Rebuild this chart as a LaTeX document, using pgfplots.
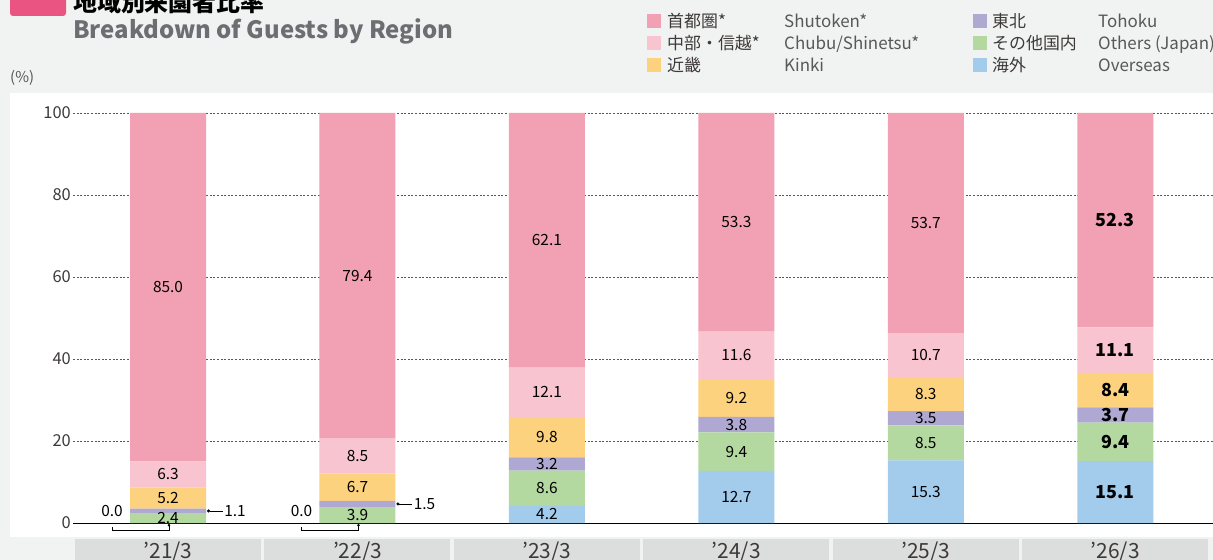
\documentclass[border=0pt]{standalone}
\usepackage{fontspec}
\setmainfont{Noto Sans CJK JP}
\usepackage{pgfplots}
\pgfplotsset{compat=1.18}
\usepackage{pgfplotstable}
\usetikzlibrary{arrows.meta}

\definecolor{cSh}{HTML}{F2A1B4}
\definecolor{cCh}{HTML}{F8C4D0}
\definecolor{cKi}{HTML}{FDD27E}
\definecolor{cTh}{HTML}{AFA8D3}
\definecolor{cOt}{HTML}{B3D8A0}
\definecolor{cOv}{HTML}{A2CBEC}
\definecolor{bg}{HTML}{F1F2F2}
\definecolor{boxgray}{HTML}{DCDDDD}
\definecolor{tpink}{HTML}{EA5482}
\definecolor{tgray}{HTML}{6D6E71}
\definecolor{txt}{HTML}{3E3A39}
\definecolor{txt2}{HTML}{595757}

\pgfplotstableread{
x ov ot th ki ch sh
0 0.0 2.4 1.1 5.2 6.3 85.0
1 0.0 3.9 1.5 6.7 8.5 79.4
2 4.2 8.6 3.2 9.8 12.1 62.1
3 12.7 9.4 3.8 9.2 11.6 53.3
4 15.3 8.5 3.5 8.3 10.7 53.7
5 15.1 9.4 3.7 8.4 11.1 52.3
}\data

\pgfplotsset{
  base/.style={
    scale only axis, width=1140bp, height=410bp,
    at={(73bp,37bp)}, anchor=south west,
    xmin=-0.5016, xmax=5.5158, ymin=0, ymax=100,
    clip=false,
  },
  lbl/.style={only marks, mark=none, nodes near coords, point meta=explicit,
    nodes near coords style={anchor=center, inner sep=0pt, text=black, font=\fontsize{15.5}{17}\selectfont}},
  lblb/.style={only marks, mark=none, nodes near coords, point meta=explicit,
    nodes near coords style={anchor=center, inner sep=0pt, text=black, font=\bfseries\fontsize{18}{20}\selectfont}},
}

\begin{document}
\begin{tikzpicture}
\useasboundingbox (0,0) rectangle (1213bp,560bp);
\clip (0,0) rectangle (1213bp,560bp);
\fill[bg] (0,0) rectangle (1213bp,560bp);
\fill[white] (10bp,23bp) rectangle (1213bp,467bp);

% title
\fill[tpink, rounded corners=3bp] (10bp,544bp) rectangle (66bp,575bp);
\node[anchor=base west, inner sep=0pt, font=\bfseries\fontsize{24}{26}\selectfont] at (73bp,548bp) {地域別来園者比率};
\node[anchor=base west, inner sep=0pt, text=tgray, font=\bfseries\fontsize{24}{26}\selectfont] at (73bp,521bp) {Breakdown of Guests by Region};
\node[anchor=base west, inner sep=0pt, text=txt2, font=\fontsize{15}{17}\selectfont] at (10bp,477bp) {(\%)};

% legend
\def\sq{14bp}
\foreach \c/\y/\jp/\en in {cSh/539/首都圏*/Shutoken*, cCh/517/中部・信越*/Chubu\slash Shinetsu*, cKi/495/近畿/Kinki}{
  \fill[\c] (647bp,\y bp-7bp) rectangle ++(\sq,\sq);
  \node[anchor=base west, inner sep=0pt, text=txt, font=\fontsize{17}{19}\selectfont] at (667bp,\y bp-6.3bp) {\jp};
  \node[anchor=base west, inner sep=0pt, text=txt2, font=\fontsize{17}{19}\selectfont] at (784bp,\y bp-6.3bp) {\en};
}
\foreach \c/\y/\jp/\en in {cTh/539/東北/Tohoku, cOt/517/その他国内/Others (Japan), cOv/495/海外/Overseas}{
  \fill[\c] (973bp,\y bp-7bp) rectangle ++(\sq,\sq);
  \node[anchor=base west, inner sep=0pt, text=txt, font=\fontsize{17}{19}\selectfont] at (992bp,\y bp-6.3bp) {\jp};
  \node[anchor=base west, inner sep=0pt, text=txt2, font=\fontsize{17}{19}\selectfont] at (1098bp,\y bp-6.3bp) {\en};
}

\begin{axis}[base,
  ybar stacked, bar width=76bp,
  axis x line*=bottom, axis y line*=left,
  y axis line style={draw=none},
  x axis line style={-, black, line width=0.9bp},
  xtick={0,...,5},
  xticklabels={’21/3,’22/3,’23/3,’24/3,’25/3,’26/3},
  ytick={0,20,...,100},
  ymajorgrids,
  major grid style={dash pattern=on 2bp off 1.6bp, txt2, line width=0.7bp},
  major tick length=0pt,
  yticklabel style={font=\fontsize{16.5}{18}\selectfont, text=txt, inner sep=2bp},
  /pgf/number format/assume math mode=true,
  xticklabel style={fill=boxgray, minimum width=186bp, minimum height=26bp, inner sep=0pt,
     anchor=north, yshift=-16bp, text=txt, font=\fontsize{21}{23}\selectfont},
]
\addplot[fill=cOv, draw=none] table[x=x,y=ov]{\data};
\addplot[fill=cOt, draw=none] table[x=x,y=ot]{\data};
\addplot[fill=cTh, draw=none] table[x=x,y=th]{\data};
\addplot[fill=cKi, draw=none] table[x=x,y=ki]{\data};
\addplot[fill=cCh, draw=none] table[x=x,y=ch]{\data};
\addplot[fill=cSh, draw=none] table[x=x,y=sh]{\data};
\end{axis}

\begin{axis}[base, hide axis,
  /pgf/number format/.cd, fixed, fixed zerofill, precision=1, assume math mode=true]
% overseas
\addplot[lbl, skip coords between index={0}{2}, skip coords between index={5}{6}] table[x=x, y expr=\thisrow{ov}/2, meta=ov]{\data};
\addplot[lblb, skip coords between index={0}{5}] table[x=x, y expr=\thisrow{ov}/2, meta=ov]{\data};
\addplot[lbl, skip coords between index={2}{6}, nodes near coords style={xshift=-56bp, yshift=12bp}] table[x=x, y expr=0, meta=ov]{\data};
% others
\addplot[lbl, skip coords between index={5}{6}] table[x=x, y expr=\thisrow{ov}+\thisrow{ot}/2, meta=ot]{\data};
\addplot[lblb, skip coords between index={0}{5}] table[x=x, y expr=\thisrow{ov}+\thisrow{ot}/2, meta=ot]{\data};
% tohoku
\addplot[lbl, skip coords between index={0}{2}, skip coords between index={5}{6}] table[x=x, y expr=\thisrow{ov}+\thisrow{ot}+\thisrow{th}/2, meta=th]{\data};
\addplot[lblb, skip coords between index={0}{5}] table[x=x, y expr=\thisrow{ov}+\thisrow{ot}+\thisrow{th}/2, meta=th]{\data};
\addplot[lbl, skip coords between index={2}{6}, nodes near coords style={xshift=67bp}] table[x=x, y expr=\thisrow{ov}+\thisrow{ot}+\thisrow{th}/2, meta=th]{\data};
% kinki
\addplot[lbl, skip coords between index={5}{6}] table[x=x, y expr=\thisrow{ov}+\thisrow{ot}+\thisrow{th}+\thisrow{ki}/2, meta=ki]{\data};
\addplot[lblb, skip coords between index={0}{5}] table[x=x, y expr=\thisrow{ov}+\thisrow{ot}+\thisrow{th}+\thisrow{ki}/2, meta=ki]{\data};
% chubu
\addplot[lbl, skip coords between index={5}{6}] table[x=x, y expr=\thisrow{ov}+\thisrow{ot}+\thisrow{th}+\thisrow{ki}+\thisrow{ch}/2, meta=ch]{\data};
\addplot[lblb, skip coords between index={0}{5}] table[x=x, y expr=\thisrow{ov}+\thisrow{ot}+\thisrow{th}+\thisrow{ki}+\thisrow{ch}/2, meta=ch]{\data};
% shutoken
\addplot[lbl, skip coords between index={5}{6}] table[x=x, y expr=\thisrow{ov}+\thisrow{ot}+\thisrow{th}+\thisrow{ki}+\thisrow{ch}+\thisrow{sh}/2, meta=sh]{\data};
\addplot[lblb, skip coords between index={0}{5}] table[x=x, y expr=\thisrow{ov}+\thisrow{ot}+\thisrow{th}+\thisrow{ki}+\thisrow{ch}+\thisrow{sh}/2, meta=sh]{\data};
% leader lines
\draw[line width=0.8bp, {Circle[length=3bp]}-] ([xshift=39bp]axis cs:0,2.95) -- ([xshift=55bp]axis cs:0,2.95);
\draw[line width=0.8bp, {Circle[length=3bp]}-] ([xshift=39bp]axis cs:1,4.65) -- ([xshift=55bp]axis cs:1,4.65);
\draw[line width=0.8bp, -{Circle[length=2.5bp]}] ([xshift=-56bp,yshift=-4bp]axis cs:0,0) -- ([xshift=-56bp,yshift=-7bp]axis cs:0,0) -- ([xshift=1bp,yshift=-7bp]axis cs:0,0) -- ([xshift=1bp,yshift=-1bp]axis cs:0,0);
\draw[line width=0.8bp, -{Circle[length=2.5bp]}] ([xshift=-56bp,yshift=-4bp]axis cs:1,0) -- ([xshift=-56bp,yshift=-7bp]axis cs:1,0) -- ([xshift=1bp,yshift=-7bp]axis cs:1,0) -- ([xshift=1bp,yshift=-1bp]axis cs:1,0);
\end{axis}
\end{tikzpicture}
\end{document}
